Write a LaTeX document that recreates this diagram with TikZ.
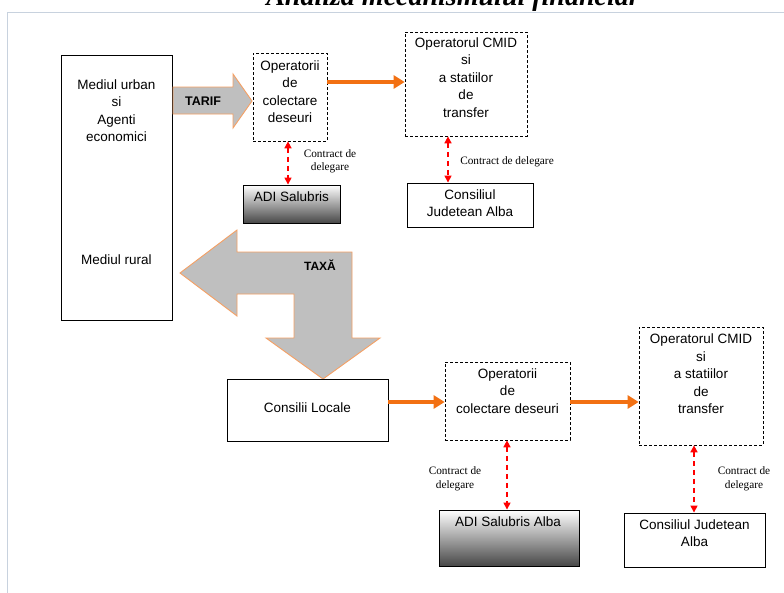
\documentclass[tikz,border=0pt]{standalone}
\usepackage{fontspec}
\setmainfont{Liberation Sans}
\newfontfamily\tnr{Liberation Serif}
\usetikzlibrary{arrows.meta}
\definecolor{orng}{RGB}{242,112,18}
\definecolor{frm}{RGB}{200,210,222}
\definecolor{arrline}{RGB}{245,160,100}
\tikzset{
  box/.style={draw, line width=0.9pt, inner sep=0pt},
  dbox/.style={draw, line width=0.7pt, dash pattern=on 3pt off 2pt, inner sep=0pt},
  grad/.style={draw, line width=0.9pt, top color=white, bottom color=black!72, inner sep=0pt},
  lbl/.style={font=\fontsize{13.5}{17.5}\selectfont, align=center, inner sep=0pt},
  ctr/.style={font=\tnr\fontsize{11.3}{13.5}\selectfont, align=center, inner sep=0pt},
  oarr/.style={draw=orng, line width=4pt, -{Triangle[length=11pt,width=13pt]}},
  rarr/.style={draw=red, line width=1.5pt, dash pattern=on 5pt off 4pt, {Triangle[length=7pt,width=7pt]}-{Triangle[length=7pt,width=7pt]}},
  bigarr/.style={fill=black!25, draw=arrline, line width=0.9pt, line join=miter},
  bold/.style={font=\bfseries\fontsize{12.5}{14}\selectfont, inner sep=0pt}
}
\begin{document}
\begin{tikzpicture}[x=1pt,y=-1pt]
\useasboundingbox (0,0) rectangle (784,592);
\clip (0,0) rectangle (784,592);
\fill[white] (0,0) rectangle (784,592);
\draw[frm, line width=1pt] (7,12) rectangle (800,600);
\node[font=\tnr\bfseries\itshape\fontsize{28}{30}\selectfont, anchor=base, inner sep=0pt] (title) at (453,5) {Analiza mecanismului financiar};

% top part
\node[box, minimum width=111pt, minimum height=265pt] (med) at (116.5,187.5) {};
\node[lbl] (medu) at (116.5,110.5) {Mediul urban\\si\\Agenti\\economici};
\node[lbl] (medr) at (116.5,260) {Mediul rural};

\draw[bigarr] (173,87) -- (233,87) -- (233,74) -- (252,101) -- (233,128) -- (233,114) -- (173,114) -- cycle;
\node[bold] (tarif) at (203,101) {TARIF};

\node[dbox, minimum width=74pt, minimum height=88pt] (op1) at (290,97) {};
\node[lbl] (op1t) at (290,91.5) {Operatorii\\de\\colectare\\deseuri};

\node[grad, minimum width=97pt, minimum height=38pt] (adi1) at (291.5,204) {};
\node[lbl] (adi1t) at (291.5,197) {ADI Salubris};

\node[dbox, minimum width=122pt, minimum height=104pt] (cmid1) at (466,84) {};
\node[lbl] (cmid1t) at (466,77.5) {Operatorul CMID\\si\\a statiilor\\de\\transfer};

\node[box, minimum width=126pt, minimum height=44pt] (cj1) at (470,205) {};
\node[lbl] (cj1t) at (470,203) {Consiliul\\Judetean Alba};

\draw[oarr] (op1.east |- 0,82) -- (cmid1.west |- 0,82);
\draw[rarr] (288,0 |- op1.south) -- (288,0 |- adi1.north);
\node[ctr] (c1) at (330,161.5) {Contract de\\delegare};
\draw[rarr] (448,0 |- cmid1.south) -- (448,0 |- cj1.north);
\node[ctr] (c2) at (507,162) {Contract de delegare};

% TAXA arrow
\draw[bigarr] (180,273) -- (237,230) -- (237,252) -- (352,252) -- (352,338) -- (380,338) -- (323,379) -- (266,338) -- (294,338) -- (294,294) -- (237,294) -- (237,316) -- cycle;
\node[bold, font=\bfseries\fontsize{12}{14}\selectfont] (taxa) at (320,265) {TAXĂ};

% bottom part
\node[box, minimum width=161pt, minimum height=62pt] (cl) at (307.5,410) {};
\node[lbl] (clt) at (307.5,408) {Consilii Locale};

\node[dbox, minimum width=125pt, minimum height=78pt] (op2) at (507.5,401) {};
\node[lbl] (op2t) at (507.5,391) {Operatorii\\de\\colectare deseuri};

\node[grad, minimum width=140pt, minimum height=56pt] (adi2) at (509,538) {};
\node[lbl] (adi2t) at (508,522) {ADI Salubris Alba};

\node[dbox, minimum width=124pt, minimum height=118pt] (cmid2) at (701,386) {};
\node[lbl] (cmid2t) at (701,374) {Operatorul CMID\\si\\a statiilor\\de\\transfer};

\node[box, minimum width=141pt, minimum height=54pt] (cj2) at (694.5,540) {};
\node[lbl] (cj2t) at (694.5,533) {Consiliul Judetean\\Alba};

\draw[oarr] (cl.east |- 0,402) -- (op2.west |- 0,402);
\draw[oarr] (op2.east |- 0,402) -- (cmid2.west |- 0,402);
\draw[rarr] (507,0 |- op2.south) -- (507,0 |- adi2.north);
\node[ctr] (c3) at (455,479) {Contract de\\delegare};
\draw[rarr] (694,0 |- cmid2.south) -- (694,0 |- cj2.north);
\node[ctr] (c4) at (744,479) {Contract de\\delegare};
\end{tikzpicture}
\end{document}
